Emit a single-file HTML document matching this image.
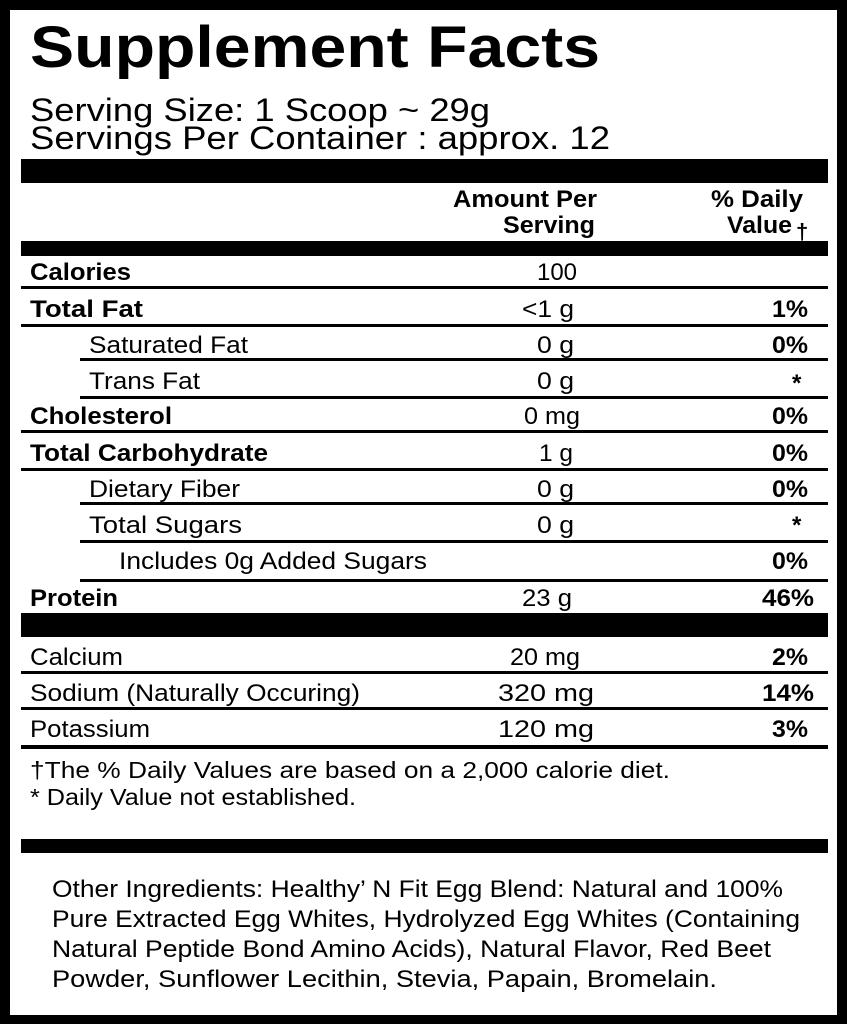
<!DOCTYPE html>
<html><head><meta charset="utf-8"><style>
html,body{margin:0;padding:0;background:#000;}
svg{display:block}
</style></head><body>
<svg width="847" height="1024" xmlns="http://www.w3.org/2000/svg" font-family="Liberation Sans, Arial, sans-serif">
<rect x="0" y="0" width="847" height="1024" fill="#000"/>
<rect x="10" y="10" width="827" height="1005" fill="#fff"/>
<g fill="#000">
<text x="30" y="67" font-size="58" font-weight="bold" textLength="570" lengthAdjust="spacingAndGlyphs">Supplement Facts</text>
<text x="30" y="121" font-size="32" textLength="460" lengthAdjust="spacingAndGlyphs">Serving Size: 1 Scoop ~ 29g</text>
<text x="30" y="149" font-size="32" textLength="580" lengthAdjust="spacingAndGlyphs">Servings Per Container : approx. 12</text>

<rect x="21" y="159" width="807" height="24"/>
<text x="453" y="207" font-size="24" font-weight="bold" textLength="144" lengthAdjust="spacingAndGlyphs">Amount Per</text>
<text x="503" y="233" font-size="24" font-weight="bold" textLength="92" lengthAdjust="spacingAndGlyphs">Serving</text>
<text x="711" y="207" font-size="24" font-weight="bold" textLength="92" lengthAdjust="spacingAndGlyphs">% Daily</text>
<text x="727" y="233" font-size="24" font-weight="bold" textLength="65" lengthAdjust="spacingAndGlyphs">Value</text>
<text x="796" y="239" font-size="22" font-weight="bold">†</text>
<rect x="21" y="241" width="807" height="15"/>

<g font-size="24">
<g font-weight="bold">
<text x="30" y="280" textLength="101" lengthAdjust="spacingAndGlyphs">Calories</text>
<text x="30" y="317" textLength="113" lengthAdjust="spacingAndGlyphs">Total  Fat</text>
<text x="30" y="424" textLength="142" lengthAdjust="spacingAndGlyphs">Cholesterol</text>
<text x="30" y="461" textLength="238" lengthAdjust="spacingAndGlyphs">Total Carbohydrate</text>
<text x="30" y="606" textLength="88" lengthAdjust="spacingAndGlyphs">Protein</text>
<text x="772" y="317" textLength="36" lengthAdjust="spacingAndGlyphs">1%</text>
<text x="772" y="353" textLength="36" lengthAdjust="spacingAndGlyphs">0%</text>
<text x="772" y="424" textLength="36" lengthAdjust="spacingAndGlyphs">0%</text>
<text x="772" y="461" textLength="36" lengthAdjust="spacingAndGlyphs">0%</text>
<text x="772" y="497" textLength="36" lengthAdjust="spacingAndGlyphs">0%</text>
<text x="772" y="569" textLength="36" lengthAdjust="spacingAndGlyphs">0%</text>
<text x="762" y="606" textLength="52" lengthAdjust="spacingAndGlyphs">46%</text>
<text x="772" y="665" textLength="36" lengthAdjust="spacingAndGlyphs">2%</text>
<text x="762" y="701" textLength="52" lengthAdjust="spacingAndGlyphs">14%</text>
<text x="772" y="737" textLength="36" lengthAdjust="spacingAndGlyphs">3%</text>
<text x="792" y="391">*</text>
<text x="792" y="533">*</text>
</g>
<text x="89" y="353" textLength="159" lengthAdjust="spacingAndGlyphs">Saturated Fat</text>
<text x="89" y="389" textLength="111" lengthAdjust="spacingAndGlyphs">Trans Fat</text>
<text x="89" y="497" textLength="151" lengthAdjust="spacingAndGlyphs">Dietary Fiber</text>
<text x="89" y="533" textLength="153" lengthAdjust="spacingAndGlyphs">Total  Sugars</text>
<text x="119" y="569" textLength="308" lengthAdjust="spacingAndGlyphs">Includes 0g Added Sugars</text>
<text x="30" y="665" textLength="93" lengthAdjust="spacingAndGlyphs">Calcium</text>
<text x="30" y="701" textLength="330" lengthAdjust="spacingAndGlyphs">Sodium (Naturally Occuring)</text>
<text x="30" y="737" textLength="120" lengthAdjust="spacingAndGlyphs">Potassium</text>

<text x="537" y="280" textLength="40" lengthAdjust="spacingAndGlyphs">100</text>
<text x="522" y="317" textLength="52" lengthAdjust="spacingAndGlyphs">&lt;1 g</text>
<text x="537" y="353" textLength="37" lengthAdjust="spacingAndGlyphs">0 g</text>
<text x="537" y="389" textLength="37" lengthAdjust="spacingAndGlyphs">0 g</text>
<text x="524" y="424" textLength="56" lengthAdjust="spacingAndGlyphs">0 mg</text>
<text x="539" y="461" textLength="34" lengthAdjust="spacingAndGlyphs">1 g</text>
<text x="537" y="497" textLength="37" lengthAdjust="spacingAndGlyphs">0 g</text>
<text x="537" y="533" textLength="37" lengthAdjust="spacingAndGlyphs">0 g</text>
<text x="522" y="606" textLength="50" lengthAdjust="spacingAndGlyphs">23 g</text>
<text x="510" y="665" textLength="70" lengthAdjust="spacingAndGlyphs">20 mg</text>
<text x="498" y="701" textLength="96" lengthAdjust="spacingAndGlyphs">320 mg</text>
<text x="498" y="737" textLength="96" lengthAdjust="spacingAndGlyphs">120 mg</text>
</g>

<rect x="21" y="286" width="807" height="3"/>
<rect x="21" y="324" width="807" height="3"/>
<rect x="80" y="358" width="748" height="3"/>
<rect x="80" y="396" width="748" height="3"/>
<rect x="21" y="430" width="807" height="3"/>
<rect x="21" y="468" width="807" height="3"/>
<rect x="80" y="502" width="748" height="3"/>
<rect x="80" y="540" width="748" height="3"/>
<rect x="80" y="579" width="748" height="3"/>
<rect x="21" y="613" width="807" height="24"/>
<rect x="21" y="671" width="807" height="3"/>
<rect x="21" y="707" width="807" height="3"/>
<rect x="21" y="745" width="807" height="4"/>

<text x="30" y="778" font-size="23" textLength="640" lengthAdjust="spacingAndGlyphs">†The % Daily Values are based on a 2,000 calorie diet.</text>
<text x="30" y="805" font-size="23" textLength="326" lengthAdjust="spacingAndGlyphs">* Daily Value not established.</text>

<rect x="21" y="839" width="807" height="14"/>

<g font-size="24">
<text x="52" y="897" textLength="731" lengthAdjust="spacingAndGlyphs">Other Ingredients: Healthy’ N Fit Egg Blend: Natural and 100%</text>
<text x="52" y="927" textLength="748" lengthAdjust="spacingAndGlyphs">Pure Extracted Egg Whites, Hydrolyzed Egg Whites (Containing</text>
<text x="52" y="957" textLength="719" lengthAdjust="spacingAndGlyphs">Natural Peptide Bond Amino Acids), Natural Flavor, Red Beet</text>
<text x="52" y="987" textLength="665" lengthAdjust="spacingAndGlyphs">Powder, Sunflower Lecithin, Stevia, Papain, Bromelain.</text>
</g>
</g>
</svg>
</body></html>
